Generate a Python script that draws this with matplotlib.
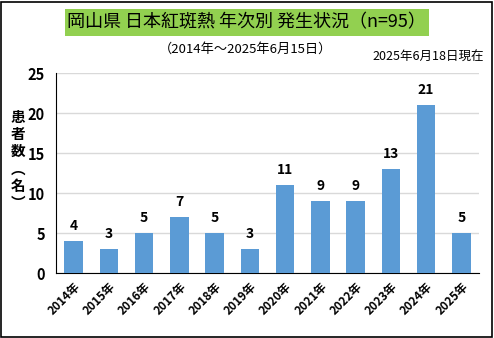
import matplotlib
matplotlib.use("Agg")
import matplotlib.pyplot as plt
from matplotlib.patches import Rectangle

plt.rcParams['font.family'] = ['Noto Sans CJK JP', 'DejaVu Sans']

years = ["2014年", "2015年", "2016年", "2017年", "2018年", "2019年",
         "2020年", "2021年", "2022年", "2023年", "2024年", "2025年"]
cases = [4, 3, 5, 7, 5, 3, 11, 9, 9, 13, 21, 5]
yticks = [0, 5, 10, 15, 20, 25]

W, H = 494, 338
fig = plt.figure(figsize=(W / 100, H / 100), dpi=100)

# outer frame
fig.patches.append(Rectangle((1 / W, 1 / H), 491 / W, 335 / H, transform=fig.transFigure,
                             fill=False, edgecolor='black', linewidth=1.2))

# title with green box
fig.patches.append(Rectangle((65 / W, 1 - 36 / H), 364 / W, 27 / H, transform=fig.transFigure,
                             facecolor='#92D050', edgecolor='none'))
fig.text(246 / W, 1 - 22.5 / H, "岡山県 日本紅斑熱 年次別 発生状況（n=95）",
         ha='center', va='center', fontsize=13)
fig.text(246 / W, 1 - 49 / H, "（2014年～2025年6月15日）", ha='center', va='center', fontsize=9.5)
fig.text(484 / W, 1 - 57 / H, "2025年6月18日現在", ha='right', va='center', fontsize=9)

ax = fig.add_axes([56 / W, 1 - 273 / H, 423 / W, 200 / H])
x = range(len(years))
bars = ax.bar(x, cases, width=0.52, color='#5B9BD5', zorder=3)
for xi, v in zip(x, cases):
    ax.text(xi, v + 1.0, str(v), ha='center', va='bottom', fontsize=10, fontweight='bold')

ax.set_xlim(-0.5, len(years) - 0.5)
ax.set_ylim(0, 25)
ax.set_yticks(yticks)
ax.set_yticklabels([str(t) for t in yticks], fontsize=10.5, fontweight='bold')
ax.set_xticks(list(x))
ax.set_xticklabels(years, rotation=45, ha='right', rotation_mode='anchor',
                   fontsize=8.5, fontweight='bold')
ax.tick_params(axis='both', length=0)
ax.tick_params(axis='y', pad=8)
ax.tick_params(axis='x', pad=5)
ax.grid(axis='y', color='#D9D9D9', linewidth=1, zorder=0)
for s in ['top', 'right']:
    ax.spines[s].set_visible(False)
ax.spines['left'].set_color('black')
ax.spines['bottom'].set_color('black')

fig.text(18 / W, 1 - 160 / H, "患\n者\n数\n︵\n名\n︶", ha='center', va='center',
         fontsize=10.5, fontweight='bold', linespacing=1.1)

fig.savefig("out.png", dpi=100)
